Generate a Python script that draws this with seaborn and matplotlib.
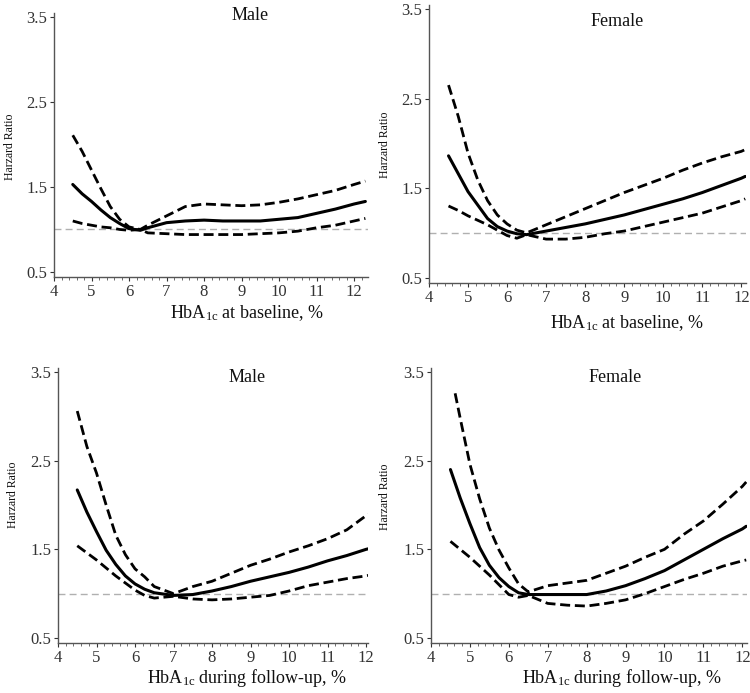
import matplotlib
matplotlib.use("Agg")
import matplotlib.pyplot as plt
import seaborn as sns
from matplotlib.ticker import MultipleLocator

# ---------------- data ----------------
# Top-left: Male, HbA1c at baseline
tl_x = [4.5, 4.75, 5, 5.25, 5.5, 5.75, 6, 6.3, 6.5, 7, 7.5, 8, 8.5, 9, 9.5, 10, 10.5, 11, 11.5, 12, 12.3]
tl_hr = [1.53, 1.42, 1.33, 1.23, 1.14, 1.07, 1.01, 0.99, 1.02, 1.08, 1.10, 1.11, 1.10, 1.10, 1.10, 1.12, 1.14, 1.19, 1.24, 1.30, 1.33]
tl_up = [2.11, 1.92, 1.70, 1.48, 1.27, 1.12, 1.03, 1.00, 1.05, 1.16, 1.27, 1.30, 1.29, 1.28, 1.29, 1.32, 1.36, 1.41, 1.46, 1.53, 1.57]
tl_lo = [1.10, 1.07, 1.05, 1.03, 1.02, 1.00, 0.99, 1.00, 0.96, 0.95, 0.94, 0.94, 0.94, 0.94, 0.95, 0.96, 0.98, 1.02, 1.05, 1.10, 1.13]

# Top-right: Female, HbA1c at baseline
tr_x = [4.5, 4.75, 5, 5.25, 5.5, 5.75, 6, 6.25, 6.5, 7, 7.5, 8, 8.5, 9, 9.5, 10, 10.5, 11, 11.5, 12, 12.1]
tr_hr = [1.86, 1.66, 1.46, 1.31, 1.16, 1.07, 1.02, 0.99, 0.98, 1.02, 1.06, 1.10, 1.15, 1.20, 1.26, 1.32, 1.38, 1.45, 1.53, 1.61, 1.63]
tr_up = [2.65, 2.30, 1.89, 1.59, 1.36, 1.20, 1.10, 1.03, 1.00, 1.09, 1.18, 1.27, 1.36, 1.45, 1.53, 1.61, 1.70, 1.78, 1.85, 1.91, 1.93]
tr_lo = [1.30, 1.25, 1.19, 1.14, 1.09, 1.03, 0.97, 0.94, 0.98, 0.93, 0.93, 0.95, 0.99, 1.02, 1.07, 1.12, 1.17, 1.22, 1.29, 1.36, 1.38]

# Bottom-left: Male, HbA1c during follow-up
bl_x = [4.5, 4.75, 5, 5.25, 5.5, 5.75, 6, 6.25, 6.5, 7, 7.5, 8, 8.5, 9, 9.5, 10, 10.5, 11, 11.5, 12, 12.1]
bl_hr = [2.17, 1.92, 1.70, 1.49, 1.33, 1.20, 1.11, 1.05, 1.01, 0.98, 0.99, 1.03, 1.08, 1.14, 1.19, 1.24, 1.30, 1.37, 1.43, 1.50, 1.51]
bl_up = [3.06, 2.66, 2.36, 2.00, 1.66, 1.44, 1.28, 1.19, 1.08, 1.00, 1.08, 1.14, 1.23, 1.32, 1.39, 1.47, 1.54, 1.62, 1.72, 1.88, 1.90]
bl_lo = [1.54, 1.46, 1.38, 1.29, 1.20, 1.12, 1.04, 0.98, 0.95, 0.97, 0.94, 0.93, 0.94, 0.96, 0.98, 1.03, 1.09, 1.13, 1.17, 1.20, 1.21]

# Bottom-right: Female, HbA1c during follow-up
br_x = [4.5, 4.75, 5, 5.25, 5.5, 5.75, 6, 6.25, 6.5, 7, 7.5, 8, 8.5, 9, 9.5, 10, 10.5, 11, 11.5, 12, 12.1]
br_hr = [2.40, 2.08, 1.79, 1.52, 1.32, 1.18, 1.08, 1.01, 0.99, 0.99, 0.99, 0.99, 1.03, 1.09, 1.17, 1.26, 1.38, 1.50, 1.62, 1.73, 1.76]
br_up_x = [4.62, 4.75, 5, 5.25, 5.5, 5.75, 6, 6.25, 6.5, 7, 7.5, 8, 8.5, 9, 9.5, 10, 10.5, 11, 11.5, 12, 12.1]
br_up = [3.26, 2.98, 2.46, 2.07, 1.74, 1.49, 1.29, 1.11, 1.02, 1.09, 1.12, 1.15, 1.23, 1.31, 1.41, 1.50, 1.67, 1.82, 2.01, 2.21, 2.26]
br_lo = [1.59, 1.50, 1.41, 1.31, 1.21, 1.10, 0.99, 0.96, 0.98, 0.89, 0.87, 0.86, 0.89, 0.93, 1.00, 1.08, 1.16, 1.23, 1.31, 1.37, 1.38]

titles = ["Male", "Female", "Male", "Female"]
xlabels = ["HbA$_{\\mathrm{1c}}$ at baseline, %", "HbA$_{\\mathrm{1c}}$ at baseline, %",
           "HbA$_{\\mathrm{1c}}$ during follow-up, %", "HbA$_{\\mathrm{1c}}$ during follow-up, %"]
ylabel = "Harzard Ratio"
xticks = [4, 5, 6, 7, 8, 9, 10, 11, 12]
yticks = [0.5, 1.5, 2.5, 3.5]
ref_hr = 1.0

# ---------------- style ----------------
sns.set_style("ticks")
plt.rcParams["font.family"] = ["Liberation Serif", "DejaVu Serif"]
plt.rcParams["mathtext.fontset"] = "custom"
plt.rcParams["mathtext.rm"] = "Liberation Serif"
plt.rcParams["mathtext.it"] = "Liberation Serif:italic"
plt.rcParams["mathtext.bf"] = "Liberation Serif:bold"

fig = plt.figure(figsize=(7.5, 6.93), dpi=100)
W, H = 750, 693

panels = [
    dict(l=54, r=368, t=13, b=277, xmax=12.37, ymin=0.44, ymax=3.55,
         x=tl_x, hr=tl_hr, up_x=tl_x, up=tl_up, lo=tl_lo,
         title=(250, 16), xl=(247, 313), yl=(10, 147)),
    dict(l=429, r=746, t=4.5, b=283, xmax=12.12, ymin=0.44, ymax=3.55,
         x=tr_x, hr=tr_hr, up_x=tr_x, up=tr_up, lo=tr_lo,
         title=(617, 22), xl=(627, 323), yl=(385, 145)),
    dict(l=58, r=368, t=367.6, b=643.3, xmax=12.05, ymin=0.44, ymax=3.55,
         x=bl_x, hr=bl_hr, up_x=bl_x, up=bl_up, lo=bl_lo,
         title=(247, 378), xl=(247, 678), yl=(13, 495)),
    dict(l=431, r=747, t=367.6, b=643.3, xmax=12.12, ymin=0.44, ymax=3.55,
         x=br_x, hr=br_hr, up_x=br_up_x, up=br_up, lo=br_lo,
         title=(615, 378), xl=(622, 678), yl=(385, 497)),
]

dash = (0, (3.6, 1.7))
for i, p in enumerate(panels):
    ax = fig.add_axes([p["l"] / W, 1 - p["b"] / H, (p["r"] - p["l"]) / W, (p["b"] - p["t"]) / H])
    ax.axhline(ref_hr, color="#b0b0b0", lw=1.0, ls=(0, (5, 3)), zorder=1)
    sns.lineplot(x=p["x"], y=p["hr"], ax=ax, color="black", lw=2.2, sort=False, zorder=3)
    sns.lineplot(x=p["up_x"], y=p["up"], ax=ax, color="black", lw=2.0, linestyle=dash, sort=False, zorder=3)
    sns.lineplot(x=p["x"], y=p["lo"], ax=ax, color="black", lw=2.0, linestyle=dash, sort=False, zorder=3)
    ax.set_xlim(4, p["xmax"])
    ax.set_ylim(p["ymin"], p["ymax"])
    ax.set_xticks(xticks)
    ax.set_xticklabels([str(t) for t in xticks])
    ax.set_yticks(yticks)
    ax.set_yticklabels([f"{t:.1f}" for t in yticks])
    ax.xaxis.set_minor_locator(MultipleLocator(0.2))
    ax.tick_params(axis="both", which="major", labelsize=12, colors="#333333", length=3, width=0.8, pad=2)
    ax.tick_params(axis="x", which="minor", length=2, width=0.6, color="#555555")
    ax.set_xlabel("")
    ax.set_ylabel("")
    for s in ["top", "right"]:
        ax.spines[s].set_visible(False)
    for s in ["left", "bottom"]:
        ax.spines[s].set_color("#555555")
        ax.spines[s].set_linewidth(1.0)
    tx, ty = p["title"]
    fig.text(tx / W, 1 - ty / H, titles[i], ha="center", va="center", fontsize=13, color="#111111")
    lx, ly = p["xl"]
    fig.text(lx / W, 1 - ly / H, xlabels[i], ha="center", va="center", fontsize=13, color="#111111")
    yx, yy = p["yl"]
    fig.text(yx / W, 1 - yy / H, ylabel, ha="center", va="center", rotation=90, fontsize=8.5, color="#111111")

fig.savefig("out.png", dpi=100, facecolor="white")
